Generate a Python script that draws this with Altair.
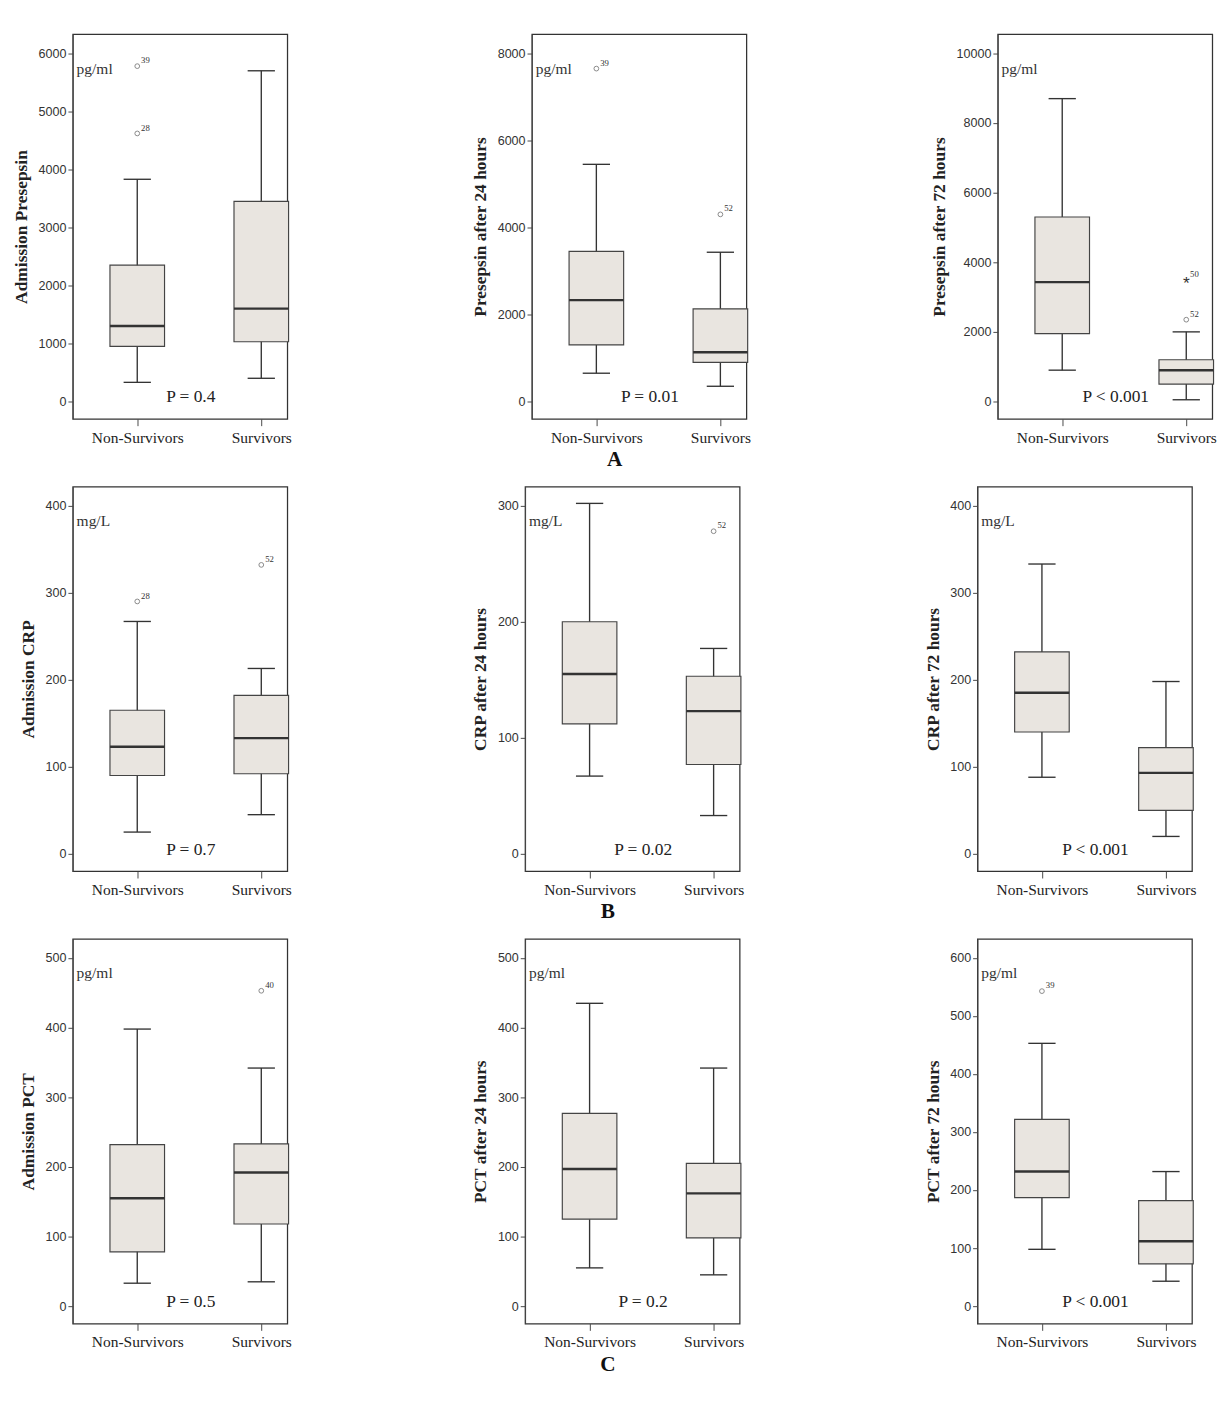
import pandas as pd
import altair as alt

groups = ["Non-Survivors", "Survivors"]

# box statistics per panel: [low, q1, median, q3, high] for Non-Survivors, Survivors
titles = ["Admission Presepsin", "Presepsin after 24 hours", "Presepsin after 72 hours",
          "Admission CRP", "CRP after 24 hours", "CRP after 72 hours",
          "Admission PCT", "PCT after 24 hours", "PCT after 72 hours"]
units = ["pg/ml", "pg/ml", "pg/ml", "mg/L", "mg/L", "mg/L", "pg/ml", "pg/ml", "pg/ml"]
p_values = ["P = 0.4", "P = 0.01", "P < 0.001", "P = 0.7", "P = 0.02", "P < 0.001",
            "P = 0.5", "P = 0.2", "P < 0.001"]
y_max = [6000, 8000, 10000, 400, 300, 400, 500, 500, 600]
y_step = [1000, 2000, 2000, 100, 100, 100, 100, 100, 100]

non_survivors = [
    [330, 950, 1300, 2350, 3830],
    [650, 1300, 2330, 3450, 5450],
    [900, 1950, 3430, 5300, 8700],
    [25, 90, 123, 165, 267],
    [67, 112, 155, 200, 302],
    [88, 140, 185, 232, 333],
    [33, 78, 155, 232, 398],
    [55, 125, 197, 277, 435],
    [98, 187, 232, 322, 453],
]
survivors = [
    [400, 1030, 1600, 3450, 5700],
    [350, 900, 1130, 2130, 3430],
    [50, 500, 900, 1200, 2000],
    [45, 92, 133, 182, 213],
    [33, 77, 123, 153, 177],
    [20, 50, 93, 122, 198],
    [35, 118, 192, 233, 342],
    [45, 98, 162, 205, 342],
    [43, 73, 112, 182, 232],
]
# outliers: (panel, group index, value, case label, symbol)
outliers = [
    (0, 0, 4620, "28", "o"), (0, 0, 5780, "39", "o"),
    (1, 0, 7650, "39", "o"), (1, 1, 4300, "52", "o"),
    (2, 1, 2350, "52", "o"), (2, 1, 3500, "50", "*"),
    (3, 0, 290, "28", "o"), (3, 1, 332, "52", "o"),
    (4, 1, 278, "52", "o"),
    (6, 1, 453, "40", "o"),
    (8, 0, 543, "39", "o"),
]
row_letters = ["A", "B", "C"]

W, H = 222, 398
serif = "Liberation Serif"
half = 0.22


def panel(i):
    rows = []
    for g, stats in enumerate([non_survivors[i], survivors[i]]):
        lo, q1, med, q3, hi = stats
        rows.append(dict(pos=g + 1, xl=g + 1 - half, xr=g + 1 + half,
                         wl=g + 1 - half / 2, wr=g + 1 + half / 2,
                         lo=lo, q1=q1, med=med, q3=q3, hi=hi))
    df = pd.DataFrame(rows)
    od = pd.DataFrame([dict(pos=o[1] + 1, v=o[2], lab=o[3], sym=o[4]) for o in outliers if o[0] == i],
                      columns=["pos", "v", "lab", "sym"])
    step = y_step[i]
    pad = y_max[i] * 0.05
    xs = alt.Scale(domain=[0.48, 2.21], nice=False, zero=False)
    ys = alt.Scale(domain=[-pad, y_max[i] + pad * 1.1], nice=False)
    x = alt.X("pos:Q", scale=xs, title=None,
              axis=alt.Axis(values=[1, 2], labelExpr="datum.value == 1 ? 'Non-Survivors' : 'Survivors'",
                            grid=False, domain=False, labelFont=serif, labelFontSize=16,
                            labelColor="#222", tickColor="#444", tickSize=7, labelPadding=4))
    yaxis = alt.Axis(values=list(range(0, y_max[i] + 1, step)), format="d", grid=False,
                     labelFont="Liberation Sans", labelFontSize=13, labelColor="#333",
                     tickColor="#444", domainColor="#444",
                     titleFont=serif, titleFontSize=18, titleFontWeight="bold", titleColor="#222",
                     titlePadding=8)
    base = alt.Chart(df)
    whisk = base.mark_rule(color="#333", strokeWidth=1.4).encode(
        x=x, y=alt.Y("lo:Q", scale=ys, axis=yaxis, title=titles[i]), y2="hi:Q")
    caps_lo = base.mark_rule(color="#333", strokeWidth=1.4).encode(x="wl:Q", x2="wr:Q", y="lo:Q")
    caps_hi = base.mark_rule(color="#333", strokeWidth=1.4).encode(x="wl:Q", x2="wr:Q", y="hi:Q")
    box = base.mark_rect(fill="#e9e5e0", stroke="#444", strokeWidth=1.2).encode(
        x="xl:Q", x2="xr:Q", y="q1:Q", y2="q3:Q")
    med = base.mark_rule(color="#333", strokeWidth=2.5).encode(x="xl:Q", x2="xr:Q", y="med:Q")
    ob = alt.Chart(od)
    circ = ob.transform_filter("datum.sym == 'o'").mark_point(
        shape="circle", size=24, color="#555", strokeWidth=1).encode(x="pos:Q", y="v:Q")
    star = ob.transform_filter("datum.sym == '*'").mark_text(
        text="*", fontSize=18, dy=5, fill="#333").encode(x="pos:Q", y="v:Q")
    olab = ob.mark_text(align="left", dx=4, dy=-6, fontSize=9, font=serif, fill="#333").encode(
        x="pos:Q", y="v:Q", text="lab:N")
    unit = alt.Chart(pd.DataFrame({"t": [units[i]]})).mark_text(
        align="left", font=serif, fontSize=16, fill="#333").encode(
        x=alt.value(4), y=alt.value(H * 0.09), text="t:N")
    ptxt = alt.Chart(pd.DataFrame({"t": [p_values[i]]})).mark_text(
        font=serif, fontSize=18, fill="#222").encode(
        x=alt.value(W * 0.55), y=alt.value(H - 22), text="t:N")
    return alt.layer(whisk, caps_lo, caps_hi, box, med, circ, star, olab, unit, ptxt).properties(
        width=W, height=H)


rows = []
for r in range(3):
    row = alt.hconcat(*[panel(r * 3 + c) for c in range(3)], spacing=185).properties(
        title=alt.TitleParams(row_letters[r], orient="bottom", anchor="middle", font=serif,
                              fontSize=22, fontWeight="bold", color="#111", offset=4))
    rows.append(row)

chart = alt.vconcat(*rows, spacing=16).properties(
    background="white", padding={"left": 4, "top": 2, "right": 4, "bottom": 4}
).configure_view(stroke="#333", strokeWidth=1.3)
chart.save("out.html", embed_options={"renderer": "svg", "actions": False})
